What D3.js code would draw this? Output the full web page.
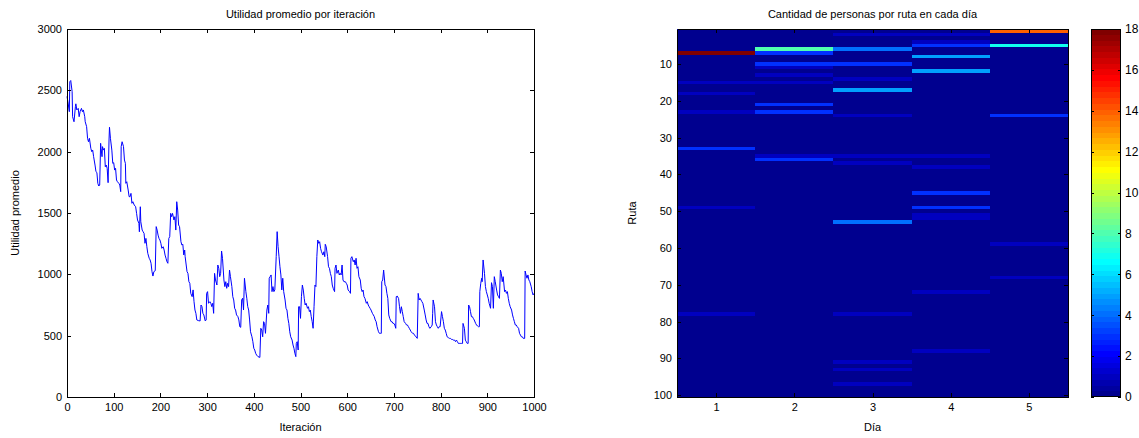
<!DOCTYPE html>
<html>
<head>
<meta charset="utf-8">
<script src="https://cdn.jsdelivr.net/npm/d3@7"></script>
<style>
  body { margin: 0; background: #fff; }
  text { font-family: "Liberation Sans", Arial, sans-serif; font-size: 11px; fill: #000; }
  .axis path, .axis line { stroke: #000; shape-rendering: crispEdges; }
  .cells rect { shape-rendering: crispEdges; }
</style>
</head>
<body>
<div id="chart"></div>
<script>
// --- left chart: average utility per iteration
const iterations = [0,2,5,6,8,11,12,15,18,19,21,24,26,28,31,33,35,38,39,42,44,46,48,51,53,55,57,60,62,64,66,68,70,72,73,75,76,78,80,82,84,86,88,90,91,93,96,98,100,102,104,106,108,111,113,115,116,118,121,123,125,126,128,131,133,135,137,139,141,144,147,149,151,154,155,157,158,161,163,165,167,169,171,173,176,178,180,182,184,186,189,191,193,195,197,199,201,203,206,208,210,212,214,216,218,220,222,224,226,229,231,233,235,237,239,241,244,246,248,250,252,253,257,259,261,263,265,268,270,272,274,276,278,282,285,287,289,291,293,296,298,299,301,303,306,308,310,312,314,316,318,321,323,325,327,329,331,333,336,338,340,342,344,346,348,350,353,355,357,359,361,363,366,368,370,372,374,376,378,380,383,385,387,389,391,393,396,398,400,402,404,406,409,413,415,417,419,421,423,425,428,430,432,433,435,437,439,441,443,445,448,450,452,454,456,458,460,462,464,467,469,471,473,475,477,479,482,484,486,488,490,491,493,495,496,498,500,502,504,506,508,510,512,515,517,519,521,523,525,527,529,531,533,535,537,539,541,543,545,548,550,552,553,555,558,560,562,564,566,568,570,573,574,576,578,581,583,585,587,589,591,593,596,598,600,602,605,607,608,610,613,615,617,619,621,623,625,628,630,632,634,636,638,641,643,645,647,649,651,654,656,658,660,662,664,667,669,671,673,674,676,678,681,683,685,687,689,691,694,696,698,700,702,704,705,707,710,712,714,716,718,720,722,725,727,729,731,733,735,737,740,742,744,746,750,752,754,756,758,760,762,765,767,769,771,773,775,777,780,782,783,784,787,789,791,793,795,797,799,802,804,806,808,810,812,814,817,819,821,823,825,827,830,832,834,836,838,840,842,845,847,848,851,853,855,857,859,860,862,864,866,868,870,872,875,877,879,881,883,884,886,888,889,891,894,896,898,900,902,904,907,909,911,913,915,917,920,922,924,926,928,930,932,934,937,939,941,943,945,947,949,952,954,956,958,960,962,964,967,969,971,973,975,977,980,981,983,985,987,989,991,994,996,998,1000];
const utility = [2450,2407,2326,2570,2580,2489,2285,2244,2367,2390,2340,2353,2285,2326,2353,2326,2340,2285,2244,2204,2109,2081,2109,2027,2000,2013,1959,1891,1837,1830,1742,1720,1728,2068,2027,1959,2041,2013,2027,1877,1891,1864,1747,2095,2199,2109,2013,1905,1910,1850,1864,1769,1755,1742,1728,1674,2041,2081,2041,1932,1905,1742,1755,1687,1633,1633,1660,1579,1592,1565,1551,1497,1443,1416,1347,1551,1429,1361,1347,1334,1253,1293,1225,1171,1131,1117,1090,1022,986,1022,1030,1389,1361,1320,1293,1280,1253,1212,1225,1198,1157,1131,1103,1090,1293,1307,1497,1470,1497,1443,1470,1361,1592,1524,1402,1389,1266,1239,1245,1158,1198,1144,1022,1008,940,927,845,818,873,777,709,682,628,622,620,750,737,682,669,620,628,845,859,764,777,764,737,764,682,1008,954,913,1076,1049,981,1008,1190,1130,954,900,940,886,927,900,1035,981,900,818,791,723,709,669,655,628,573,568,791,805,709,968,859,805,737,709,628,532,491,451,397,383,356,342,329,323,560,546,491,614,600,519,709,750,682,968,981,995,859,900,859,873,1144,1348,1226,1144,1062,995,873,968,859,791,723,709,641,600,532,491,464,424,397,356,329,437,451,383,736,736,641,818,913,872,804,750,764,723,736,696,709,655,614,560,736,913,900,1144,1280,1253,1266,1212,1184,1157,1184,1144,1245,1226,1144,1062,1049,1008,981,913,886,859,1049,1076,1008,1035,995,1008,995,1076,954,940,940,927,913,872,859,845,1131,1144,1103,1117,1076,1131,1049,1062,981,954,886,859,872,818,804,764,777,750,736,723,709,682,669,655,628,614,573,532,519,519,519,940,954,1035,913,900,845,804,669,641,614,614,600,600,587,560,818,823,804,736,682,736,696,655,614,600,587,587,573,560,546,532,519,519,505,497,478,845,791,804,791,777,764,709,669,628,600,600,573,560,573,587,682,791,736,614,587,573,560,573,573,696,655,614,560,546,519,491,483,478,478,470,470,464,464,451,464,451,437,437,437,437,437,600,560,464,451,437,437,750,736,696,655,655,641,628,600,587,579,573,573,859,927,968,940,1117,1008,900,859,832,804,764,723,932,900,723,981,940,872,832,818,804,1035,1008,940,981,859,872,845,859,804,764,736,709,669,641,614,587,587,573,560,519,505,491,491,478,478,1027,995,968,995,954,940,900,859,832,845];
const utilTicks = [0,500,1000,1500,2000,2500,3000];
const iterTicks = [0,100,200,300,400,500,600,700,800,900,1000];

// --- right chart: people per route per day (non-zero cells only)
const days = [1,2,3,4,5];
const cellRoute = [7,15,18,23,33,49,78, 6,7,10,11,13,15,21,23,35,36, 2,6,10,14,17,24,35,37,53,78,91,93,97, 2,4,5,8,12,35,38,45,49,51,52,72,88, 1,5,24,59,68];
const cellDay   = [1,1,1,1,1,1,1, 2,2,2,2,2,2,2,2,2,2, 3,3,3,3,3,3,3,3,3,3,3,3,3, 4,4,4,4,4,4,4,4,4,4,4,4,4, 5,5,5,5,5];
const cellCount = [18,1,1,1,3,1,1, 8,3,3,1,1,1,3,3,1,3, 1,4,3,1,5,1,1,1,4,1,1,1,1, 1,1,3,5,5,1,1,3,3,1,1,1,1, 14,7,3,1,1];
const routeTicks = [10,20,30,40,50,60,70,80,90,100];
const countTicks = [0,2,4,6,8,10,12,14,16,18];

// MATLAB-style jet(64)
function jet64() {
  const n = 64, m = 16, u = [];
  for (let i = 1; i <= m; i++) u.push(i / m);
  for (let i = 0; i < m - 1; i++) u.push(1);
  for (let i = m; i >= 1; i--) u.push(i / m);
  const r = new Array(n).fill(0), g = new Array(n).fill(0), b = new Array(n).fill(0);
  u.forEach((v, k) => {
    const gi = 8 + k, ri = gi + m, bi = gi - m;   // 0-based
    if (gi >= 0 && gi < n) g[gi] = v;
    if (ri >= 0 && ri < n) r[ri] = v;
    if (bi >= 0 && bi < n) b[bi] = v;
  });
  return d3.range(n).map(i => d3.rgb(r[i] * 255, g[i] * 255, b[i] * 255).formatHex());
}
const jet = jet64();
const cmax = 18;
const colorOf = v => jet[Math.max(0, Math.min(63, Math.floor(v / cmax * 64)))];

const W = 1139, H = 438;
const svg = d3.select('#chart').append('svg').attr('width', W).attr('height', H);

// ---------- left: line chart
const L = { x0: 67, x1: 534, y0: 29, y1: 397 };
const x = d3.scaleLinear().domain([0, 1000]).range([L.x0, L.x1]);
const y = d3.scaleLinear().domain([0, 3000]).range([L.y1, L.y0]);

svg.append('path')
  .datum(d3.zip(iterations, utility))
  .attr('fill', 'none')
  .attr('stroke', '#0000ff')
  .attr('stroke-width', 1)
  .attr('d', d3.line().x(d => x(d[0])).y(d => y(d[1])));

function box(xs, ys, xt, yt, showX, showY) {
  svg.append('g').attr('class', 'axis').attr('transform', `translate(0,${ys.range()[0]})`)
    .call(d3.axisBottom(xs).tickValues(xt).tickSizeInner(-4).tickSizeOuter(0).tickPadding(6).tickFormat(showX))
    .call(g => g.selectAll('text').attr('dy', '0.71em'));
  svg.append('g').attr('class', 'axis').attr('transform', `translate(0,${ys.range()[1]})`)
    .call(d3.axisTop(xs).tickValues(xt).tickSizeInner(-4).tickSizeOuter(0).tickFormat(''));
  svg.append('g').attr('class', 'axis').attr('transform', `translate(${xs.range()[0]},0)`)
    .call(d3.axisLeft(ys).tickValues(yt).tickSizeInner(-4).tickSizeOuter(0).tickPadding(5).tickFormat(showY));
  svg.append('g').attr('class', 'axis').attr('transform', `translate(${xs.range()[1]},0)`)
    .call(d3.axisRight(ys).tickValues(yt).tickSizeInner(-4).tickSizeOuter(0).tickFormat(''));
  svg.selectAll('.axis text').style('font-size', '11px').style('font-family', '"Liberation Sans", Arial, sans-serif');
}
box(x, y, iterTicks, utilTicks, d3.format('d'), d3.format('d'));

svg.append('text').attr('x', (L.x0 + L.x1) / 2).attr('y', 18).attr('text-anchor', 'middle')
  .text('Utilidad promedio por iteración');
svg.append('text').attr('x', (L.x0 + L.x1) / 2).attr('y', 431).attr('text-anchor', 'middle')
  .text('Iteración');
svg.append('text').attr('transform', `translate(19,${(L.y0 + L.y1) / 2}) rotate(-90)`).attr('text-anchor', 'middle')
  .text('Utilidad promedio');

// ---------- right: heatmap
const R = { x0: 677, x1: 1068, y0: 29, y1: 397 };
const hx = d3.scaleLinear().domain([0.5, 5.5]).range([R.x0, R.x1]);
const hy = d3.scaleLinear().domain([0.5, 100.5]).range([R.y0, R.y1]);

const counts = new Map();
cellRoute.forEach((r, i) => counts.set(r + '_' + cellDay[i], cellCount[i]));
const grid = d3.cross(d3.range(1, 101), days).map(([r, d]) => ({ r, d, v: counts.get(r + '_' + d) || 0 }));

svg.append('g').attr('class', 'cells').selectAll('rect').data(grid).join('rect')
  .attr('x', d => hx(d.d - 0.5))
  .attr('y', d => hy(d.r - 0.5))
  .attr('width', d => hx(d.d + 0.5) - hx(d.d - 0.5))
  .attr('height', d => hy(d.r + 0.5) - hy(d.r - 0.5))
  .attr('fill', d => colorOf(d.v));

const hxAxis = d3.scaleLinear().domain(hx.domain()).range(hx.range());
const hyAxis = d3.scaleLinear().domain([100.5, 0.5]).range([R.y1, R.y0]);
box(hxAxis, hyAxis, days, routeTicks, d3.format('d'), d3.format('d'));

svg.append('text').attr('x', (R.x0 + R.x1) / 2).attr('y', 18).attr('text-anchor', 'middle')
  .text('Cantidad de personas por ruta en cada día');
svg.append('text').attr('x', (R.x0 + R.x1) / 2).attr('y', 431).attr('text-anchor', 'middle')
  .text('Día');
svg.append('text').attr('transform', `translate(636,${(R.y0 + R.y1) / 2}) rotate(-90)`).attr('text-anchor', 'middle')
  .text('Ruta');

// ---------- colorbar
const C = { x0: 1091, x1: 1121 };
const cy = d3.scaleLinear().domain([0, cmax]).range([R.y1, R.y0]);
svg.append('g').attr('class', 'cells').selectAll('rect').data(d3.range(64)).join('rect')
  .attr('x', C.x0)
  .attr('width', C.x1 - C.x0)
  .attr('y', i => cy((i + 1) * cmax / 64))
  .attr('height', i => cy(i * cmax / 64) - cy((i + 1) * cmax / 64))
  .attr('fill', i => jet[i]);
svg.append('rect').attr('x', C.x0 + 0.5).attr('y', R.y0 + 0.5).attr('width', C.x1 - C.x0 - 1).attr('height', R.y1 - R.y0 - 1)
  .attr('fill', 'none').attr('stroke', '#000');
svg.append('g').attr('class', 'axis').attr('transform', `translate(${C.x1},0)`)
  .call(d3.axisRight(cy).tickValues(countTicks).tickSizeInner(-3).tickSizeOuter(0).tickPadding(4).tickFormat(d3.format('d')))
  .call(g => g.select('.domain').remove())
  .call(g => g.selectAll('text').style('font-size', '12px'));
svg.append('g').attr('class', 'axis').attr('transform', `translate(${C.x0},0)`)
  .call(d3.axisLeft(cy).tickValues(countTicks).tickSizeInner(-3).tickSizeOuter(0).tickFormat(''))
  .call(g => g.select('.domain').remove());
</script>
</body>
</html>
